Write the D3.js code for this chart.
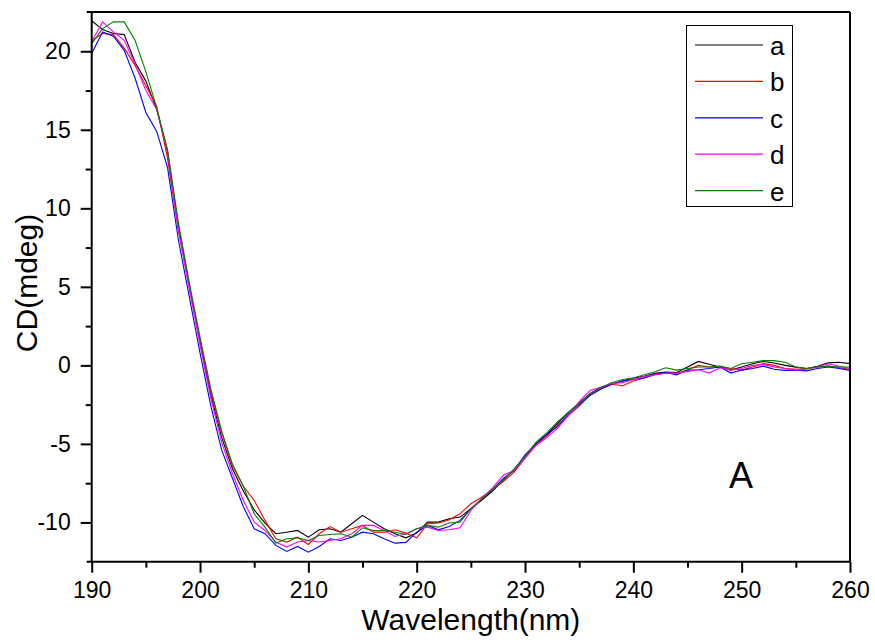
<!DOCTYPE html>
<html><head><meta charset="utf-8">
<script src="https://cdn.jsdelivr.net/npm/d3@7"></script>
<style>body{margin:0;background:#fff}svg{display:block}</style>
</head><body>
<svg id="chart" width="875" height="643"></svg>
<script>
const wavelengths = d3.range(190, 261);
const seriesNames = ["a","b","c","d","e"];
const seriesColors = ["#000000","#ff0000","#0000ff","#ff00ff","#008000"];
const seriesA = [21.94,21.38,21.13,21.06,19.3,18.1,16.3,13.6,8.9,5.1,1.5,-1.9,-4.6,-6.6,-8.0,-9.2,-10.04,-10.72,-10.62,-10.51,-10.94,-10.47,-10.40,-10.62,-10.08,-9.55,-9.98,-10.40,-10.72,-10.98,-10.68,-9.98,-9.98,-9.77,-9.66,-9.13,-8.6,-8.0,-7.3,-6.6,-5.8,-5.0,-4.4,-3.7,-3.0,-2.4,-1.8,-1.4,-1.2,-1.0,-0.8,-0.7,-0.5,-0.42,-0.45,-0.1,0.25,0.07,-0.1,-0.3,-0.1,0.1,0.25,0.15,0.0,-0.11,-0.2,-0.05,0.16,0.2,0.11];
const seriesB = [20.66,21.13,21.06,20.2,19.1,17.8,16.5,13.2,8.6,5.0,1.6,-1.7,-4.3,-6.4,-7.7,-8.6,-9.87,-11.04,-11.25,-10.94,-11.40,-10.72,-10.26,-10.62,-10.40,-10.19,-10.62,-10.62,-10.47,-10.68,-10.98,-10.08,-10.04,-9.83,-9.45,-8.81,-8.4,-7.9,-7.4,-6.8,-5.9,-5.1,-4.5,-3.8,-3.2,-2.6,-1.9,-1.5,-1.2,-1.3,-1.0,-0.8,-0.6,-0.5,-0.5,-0.3,0.0,-0.1,-0.1,-0.2,-0.3,-0.1,0.11,0.0,-0.2,-0.25,-0.2,-0.1,-0.05,-0.15,-0.25];
const seriesC = [19.85,21.23,20.96,20.06,18.3,16.1,14.9,12.6,8.0,4.4,0.8,-2.6,-5.4,-7.2,-9.0,-10.40,-10.72,-11.46,-11.85,-11.53,-11.89,-11.53,-11.04,-11.15,-10.94,-10.62,-10.72,-11.04,-11.32,-11.27,-10.62,-10.19,-10.47,-10.26,-9.87,-9.13,-8.5,-7.9,-7.2,-6.7,-5.7,-5.0,-4.4,-3.9,-3.1,-2.5,-1.9,-1.5,-1.2,-1.0,-0.9,-0.8,-0.55,-0.45,-0.6,-0.3,-0.28,-0.2,-0.1,-0.49,-0.3,-0.2,-0.05,-0.25,-0.32,-0.3,-0.35,-0.2,-0.1,-0.2,-0.32];
const seriesD = [20.6,21.87,21.23,20.7,19.2,17.5,16.3,13.7,8.7,4.9,1.3,-2.1,-4.9,-6.9,-8.6,-9.98,-10.51,-11.25,-11.57,-11.25,-11.15,-11.25,-11.15,-11.04,-10.72,-10.19,-10.19,-10.51,-10.89,-10.72,-10.40,-10.30,-10.51,-10.47,-10.34,-9.24,-8.5,-7.8,-7.0,-6.7,-5.9,-5.1,-4.6,-4.0,-3.2,-2.3,-1.6,-1.4,-1.15,-1.1,-0.9,-0.7,-0.6,-0.5,-0.5,-0.4,-0.28,-0.49,-0.15,-0.3,-0.2,0.0,0.05,-0.1,-0.2,-0.3,-0.25,-0.1,0.1,-0.05,-0.2];
const seriesE = [20.49,21.44,21.87,21.87,20.7,18.7,16.4,13.7,9.1,5.3,1.8,-1.5,-4.2,-6.3,-7.7,-9.45,-10.30,-11.32,-11.04,-10.98,-11.15,-10.83,-10.77,-10.72,-10.94,-10.34,-10.51,-10.51,-10.62,-10.77,-10.40,-10.19,-10.30,-10.04,-9.98,-9.13,-8.5,-7.9,-7.3,-6.6,-5.8,-4.9,-4.3,-3.6,-3.0,-2.4,-1.8,-1.4,-1.1,-0.9,-0.8,-0.6,-0.4,-0.15,-0.3,-0.2,-0.1,-0.1,-0.05,-0.2,0.1,0.2,0.3,0.3,0.2,-0.1,-0.2,-0.1,-0.05,-0.1,-0.1];
const xMajorTicks = [190,200,210,220,230,240,250,260];
const xMinorTicks = [195,205,215,225,235,245,255];
const yMajorTicks = [-10,-5,0,5,10,15,20];
const yMinorTicks = [-12.5,-7.5,-2.5,2.5,7.5,12.5,17.5,22.5];
const xTitle = "Wavelength(nm)";
const yTitle = "CD(mdeg)";
const panelLabel = "A";

const allSeries = [seriesA, seriesB, seriesC, seriesD, seriesE];
const svg = d3.select("#chart");
const L = 91.7, R = 850, T = 12, B = 561.7;
const x = d3.scaleLinear().domain([190, 260]).range([L, R]);
const y = d3.scaleLinear().domain([-12.5, 22.5]).range([B, T]);
const font = "'Liberation Sans', Arial, sans-serif";

// series lines
const line = d3.line().x((d, i) => x(wavelengths[i])).y(d => y(d));
const gLines = svg.append("g");
allSeries.forEach((s, k) => {
  gLines.append("path").datum(s).attr("d", line)
    .attr("fill", "none").attr("stroke", seriesColors[k]).attr("stroke-width", 1.1);
});

// axes
function styleAxis(g, fs) {
  g.select(".domain").remove();
  g.selectAll(".tick line").attr("stroke", "#000").attr("stroke-width", 2);
  g.selectAll(".tick text").attr("font-family", font).attr("font-size", fs).attr("fill", "#000");
}
const gx = svg.append("g").attr("transform", `translate(0,${B})`)
  .call(d3.axisBottom(x).tickValues(xMajorTicks).tickSize(11).tickPadding(9).tickFormat(d3.format("d")));
styleAxis(gx, 23);
const gxm = svg.append("g").attr("transform", `translate(0,${B})`)
  .call(d3.axisBottom(x).tickValues(xMinorTicks).tickSize(6).tickFormat(""));
styleAxis(gxm, 23);
const gy = svg.append("g").attr("transform", `translate(${L},0)`)
  .call(d3.axisLeft(y).tickValues(yMajorTicks).tickSize(11).tickPadding(10).tickFormat(d3.format("d")));
styleAxis(gy, 23);
gy.selectAll(".tick text").text(d => d < 0 ? "-" + Math.abs(d) : d);
const gym = svg.append("g").attr("transform", `translate(${L},0)`)
  .call(d3.axisLeft(y).tickValues(yMinorTicks.filter(v => v > -12.5 && v < 22.5)).tickSize(6).tickFormat(""));
styleAxis(gym, 23);

// frame
const frame = svg.append("g").attr("stroke", "#000").attr("stroke-width", 2).attr("fill", "none");
frame.append("line").attr("x1", L - 5).attr("x2", R).attr("y1", T).attr("y2", T);
frame.append("line").attr("x1", L - 5).attr("x2", R).attr("y1", B).attr("y2", B);
frame.append("line").attr("x1", L).attr("x2", L).attr("y1", T).attr("y2", B);
frame.append("line").attr("x1", R).attr("x2", R).attr("y1", T).attr("y2", B);

// titles
svg.append("text").attr("x", (L + R) / 2).attr("y", 630).attr("text-anchor", "middle")
  .attr("font-family", font).attr("font-size", 30).text(xTitle);
svg.append("text").attr("transform", `translate(37,283) rotate(-90)`).attr("text-anchor", "middle")
  .attr("font-family", font).attr("font-size", 30).text(yTitle);
svg.append("text").attr("x", 741).attr("y", 488).attr("text-anchor", "middle")
  .attr("font-family", font).attr("font-size", 36).text(panelLabel);

// legend
const lg = svg.append("g");
lg.append("rect").attr("x", 686.5).attr("y", 25.5).attr("width", 106).attr("height", 181)
  .attr("fill", "#fff").attr("stroke", "#000").attr("stroke-width", 1);
seriesNames.forEach((n, i) => {
  const yy = 45 + i * 36.4;
  lg.append("line").attr("x1", 695).attr("x2", 763).attr("y1", yy).attr("y2", yy)
    .attr("stroke", seriesColors[i]).attr("stroke-width", 1.2);
  lg.append("text").attr("x", 770).attr("y", yy + 10).attr("font-family", font)
    .attr("font-size", 26).text(n);
});
</script>
</body></html>
